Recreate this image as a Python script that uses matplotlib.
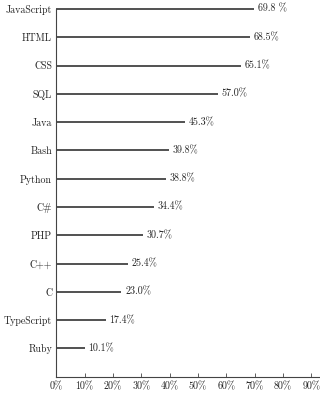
import matplotlib
matplotlib.use("Agg")
import matplotlib.pyplot as plt

languages = ["JavaScript", "HTML", "CSS", "SQL", "Java", "Bash", "Python",
             "C#", "PHP", "C++", "C", "TypeScript", "Ruby"]
shares = [69.8, 68.5, 65.1, 57.0, 45.3, 39.8, 38.8, 34.4, 30.7, 25.4, 23.0, 17.4, 10.1]
value_labels = ["69.8 %", "68.5%", "65.1%", "57.0%", "45.3%", "39.8%", "38.8%",
                "34.4%", "30.7%", "25.4%", "23.0%", "17.4%", "10.1%"]
x_ticks = [0, 10, 20, 30, 40, 50, 60, 70, 80, 90]
x_ticklabels = [f"{t}%" for t in x_ticks]

plt.rcParams['font.family'] = ['cmr10', 'DejaVu Serif']
plt.rcParams['mathtext.fontset'] = 'cm'

fig = plt.figure(figsize=(3.20, 3.98), dpi=100)
ax = fig.add_axes([0.176, 0.0535, 0.824, 0.9239])

ypos = list(range(len(languages)))
ax.hlines(ypos, 0, shares, color='#222222', linewidth=1.1, clip_on=False)
for y, v, lab in zip(ypos, shares, value_labels):
    ax.text(v + 1.3, y, lab, va='center', ha='left', fontsize=7.2, color='#222222')

ax.set_ylim(13, 0)
ax.set_xlim(0, 93.1)
ax.set_yticks(ypos)
ax.set_yticklabels(languages, fontsize=7.2, color='#222222')
ax.set_xticks(x_ticks)
ax.set_xticklabels(x_ticklabels, fontsize=7.2, color='#222222')
ax.tick_params(axis='y', length=0, pad=3.0)
ax.tick_params(axis='x', direction='in', length=3, width=0.6, color='#444444', pad=4)

for s in ['top', 'right']:
    ax.spines[s].set_visible(False)
for s in ['left', 'bottom']:
    ax.spines[s].set_color('#444444')
    ax.spines[s].set_linewidth(0.8)

fig.savefig("out.png", dpi=100)
